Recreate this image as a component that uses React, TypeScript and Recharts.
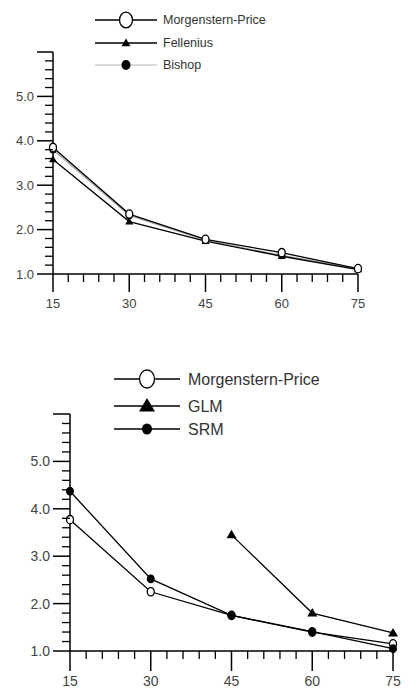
import { LineChart, Line, XAxis, YAxis } from 'recharts';

// slope angle (deg) vs factor of safety
const angles = [15, 30, 45, 60, 75];

const topNames = ['Morgenstern-Price', 'Fellenius', 'Bishop'];
const topMP = [3.85, 2.35, 1.78, 1.48, 1.12];
const topFellenius = [3.58, 2.18, 1.74, 1.4, 1.1];
const topBishop = [3.8, 2.32, 1.76, 1.42, 1.12];

const botNames = ['Morgenstern-Price', 'GLM', 'SRM'];
const botMP = [3.77, 2.25, 1.75, 1.4, 1.15];
const botGLM = [null, null, 3.45, 1.8, 1.38];
const botSRM = [4.37, 2.52, 1.75, 1.41, 1.05];

const xTicks = [15, 18, 21, 24, 27, 30, 33, 36, 39, 42, 45, 48, 51, 54, 57, 60, 63, 66, 69, 72, 75];
const yTicks = Array.from({ length: 26 }, (_, i) => Math.round((1 + i * 0.2) * 10) / 10);

const FONT = '"Liberation Sans", Arial, sans-serif';

type Kind = 'open' | 'tri' | 'dot';

function Marker({ kind, cx, cy, s }: { kind: Kind; cx: number; cy: number; s: number }) {
  if (kind === 'open')
    return <ellipse cx={cx} cy={cy} rx={s} ry={s * 1.2} fill="#fff" stroke="#000" strokeWidth={1.3} />;
  if (kind === 'dot') return <ellipse cx={cx} cy={cy} rx={s} ry={s * 1.1} fill="#000" />;
  return (
    <polygon
      points={`${cx},${cy - s} ${cx - s},${cy + s * 0.7} ${cx + s},${cy + s * 0.7}`}
      fill="#000"
    />
  );
}

const dotFor = (kind: Kind, s: number) => (p: any) =>
  p.cx == null || p.cy == null || p.value == null ? (
    <g key={`e${p.index}`} />
  ) : (
    <g key={`d${p.index}`}>
      <Marker kind={kind} cx={p.cx} cy={p.cy} s={s} />
    </g>
  );

const xTick = (fs: number, major: number, labelOff: number) => (p: any) => {
  const v = p.payload.value;
  const isMajor = v % 15 === 0;
  return (
    <g>
      <line x1={p.x} y1={p.y} x2={p.x} y2={p.y + (isMajor ? major : 8)} stroke="#000" strokeWidth={isMajor ? 1.5 : 1.3} />
      {isMajor && (
        <text x={p.x} y={p.y + labelOff} dy="0.35em" textAnchor="middle" fontSize={fs} fill="#444" fontFamily={FONT}>
          {v}
        </text>
      )}
    </g>
  );
};

const yTick = (fs: number, major: number, show: (v: number) => boolean) => (p: any) => {
  const v = p.payload.value;
  const isMajor = Math.abs(v - Math.round(v)) < 1e-6;
  return (
    <g>
      <line x1={p.x} y1={p.y} x2={p.x - (isMajor ? major : 8)} y2={p.y} stroke="#000" strokeWidth={isMajor ? 1.5 : 1.3} />
      {isMajor && show(v) && (
        <text x={p.x - major - 3} y={p.y} dy="0.35em" textAnchor="end" fontSize={fs} fill="#444" fontFamily={FONT}>
          {v.toFixed(1)}
        </text>
      )}
    </g>
  );
};

function Legend({ names, kinds, sizes, colors, top, lineX, textX, rowGap, fs }: any) {
  return (
    <svg width={409} height={80} style={{ position: 'absolute', left: 0, top }}>
      {names.map((n: string, i: number) => {
        const y = 10 + i * rowGap[i];
        const mid = (lineX[0] + lineX[1]) / 2;
        return (
          <g key={n + i}>
            <line x1={lineX[0]} x2={lineX[1]} y1={y} y2={y} stroke={colors[i]} strokeWidth={1.5} />
            <Marker kind={kinds[i]} cx={mid} cy={y} s={sizes[i]} />
            <text x={textX} y={y} dy="0.35em" fontSize={fs} fill="#333" fontFamily={FONT}>
              {n}
            </text>
          </g>
        );
      })}
    </svg>
  );
}

const topData = angles.map((a, i) => ({ angle: a, mp: topMP[i], fel: topFellenius[i], bishop: topBishop[i] }));
const botData = angles.map((a, i) => ({ angle: a, mp: botMP[i], glm: botGLM[i], srm: botSRM[i] }));

export default function App() {
  return (
    <div style={{ position: 'absolute', left: 0, top: 0, width: 409, height: 689, background: '#fff', fontFamily: FONT }}>
      <div style={{ position: 'absolute', left: 0, top: 0 }}>
        <LineChart width={409} height={330} data={topData} margin={{ top: 52, right: 51, bottom: 0, left: 0 }}>
          <XAxis dataKey="angle" type="number" domain={[15, 75]} ticks={xTicks} interval={0} height={56}
                 tickSize={0} tickMargin={0} tickLine={false} axisLine={{ stroke: '#000', strokeWidth: 1.5 }}
                 tick={xTick(13, 18, 29)} />
          <YAxis type="number" domain={[1, 6]} ticks={yTicks} interval={0} width={53}
                 tickSize={0} tickMargin={0} tickLine={false} axisLine={{ stroke: '#000', strokeWidth: 1.5 }}
                 tick={yTick(13, 16, (v) => v <= 5)} />
          <Line dataKey="bishop" stroke="#aaa" strokeWidth={1.2} dot={dotFor('dot', 3.5)} isAnimationActive={false} />
          <Line dataKey="fel" stroke="#000" strokeWidth={1.3} dot={dotFor('tri', 4)} isAnimationActive={false} />
          <Line dataKey="mp" stroke="#000" strokeWidth={1.3} dot={dotFor('open', 3.5)} isAnimationActive={false} />
        </LineChart>
      </div>
      <div style={{ position: 'absolute', left: 0, top: 330 }}>
        <LineChart width={409} height={359} data={botData} margin={{ top: 84, right: 16, bottom: 0, left: 0 }}>
          <XAxis dataKey="angle" type="number" domain={[15, 75]} ticks={xTicks} interval={0} height={38}
                 tickSize={0} tickMargin={0} tickLine={false} axisLine={{ stroke: '#000', strokeWidth: 1.5 }}
                 tick={xTick(14, 20, 30)} />
          <YAxis type="number" domain={[1, 6]} ticks={yTicks} interval={0} width={70}
                 tickSize={0} tickMargin={0} tickLine={false} axisLine={{ stroke: '#000', strokeWidth: 1.5 }}
                 tick={yTick(14, 17, (v) => v <= 5)} />
          <Line dataKey="mp" stroke="#000" strokeWidth={1.3} dot={dotFor('open', 3.5)} isAnimationActive={false} />
          <Line dataKey="srm" stroke="#000" strokeWidth={1.3} dot={dotFor('dot', 4)} isAnimationActive={false} />
          <Line dataKey="glm" stroke="#000" strokeWidth={1.3} dot={dotFor('tri', 5)} isAnimationActive={false} />
        </LineChart>
      </div>
      <Legend names={topNames} kinds={['open', 'tri', 'dot']} sizes={[6.5, 4.5, 4.5]} colors={['#000', '#000', '#ccc']}
              top={10} lineX={[95, 157]} textX={163} rowGap={[0, 23, 22.5]} fs={12.5} />
      <Legend names={botNames} kinds={['open', 'tri', 'dot']} sizes={[7.5, 8, 5]} colors={['#000', '#000', '#000']}
              top={369} lineX={[114, 180]} textX={188} rowGap={[0, 27, 25]} fs={16} />
    </div>
  );
}
